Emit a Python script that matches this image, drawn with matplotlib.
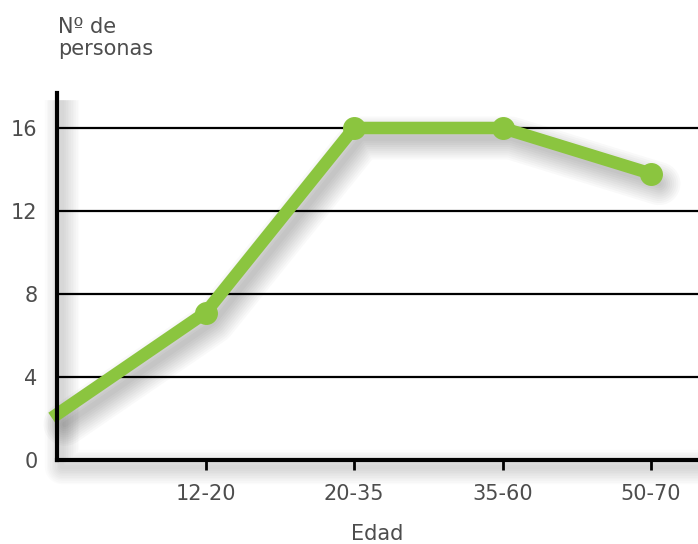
"""
Nº de personas por grupo de edad
"""
import numpy as np
import matplotlib
matplotlib.use("Agg")
import matplotlib.pyplot as plt
from matplotlib import transforms

# datos
edades = ["12-20", "20-35", "35-60", "50-70"]
personas = [7.1, 16, 16, 13.8]
inicio = 2.2  # valor en el origen (sin marcador)
y_ticks = [0, 4, 8, 12, 16]

verde = "#8bc53f"
gris = "#4d4d4d"
plt.rcParams['font.family'] = ['DejaVu Sans']

fig = plt.figure(figsize=(6.98, 5.44), dpi=100)
ax = fig.add_axes([57 / 698, 84 / 544, 641 / 698, 367 / 544])

x = np.arange(len(edades) + 1)
y = np.array([inicio] + personas)

# sombra difuminada (capas)
sombra = transforms.ScaledTranslation(8 / 100, -10 / 100, fig.dpi_scale_trans)
sombra_ejes = transforms.ScaledTranslation(5 / 100, -7 / 100, fig.dpi_scale_trans)
for w in np.arange(4, 34, 3):
    ax.plot(x, y, color="black", lw=w, alpha=0.025, transform=ax.transData + sombra,
            solid_capstyle="round", solid_joinstyle="round", zorder=1, clip_on=False)
    ax.plot([0, 0, 1], [1, 0, 0], color="black", lw=w * 0.8, alpha=0.015,
            transform=ax.transAxes + sombra_ejes, zorder=1, clip_on=False,
            solid_capstyle="butt")

for v in y_ticks[1:]:
    ax.axhline(v, color="black", lw=1.6, zorder=2)

ax.plot(x, y, color=verde, lw=9, zorder=3, solid_joinstyle="round", clip_on=False)
ax.plot(x[1:], y[1:], "o", color=verde, ms=15.5, zorder=4, clip_on=False)

ax.set_xlim(0, 641 / 148.5)
ax.set_ylim(0, 367 / 20.75)
ax.set_xticks(x[1:])
ax.set_xticklabels(edades)
ax.set_yticks(y_ticks)

for s in ["top", "right"]:
    ax.spines[s].set_visible(False)
for s in ["left", "bottom"]:
    ax.spines[s].set_linewidth(3)
    ax.spines[s].set_zorder(5)

ax.tick_params(axis="x", length=7, width=2, color="black", pad=10, labelsize=15, labelcolor=gris)
ax.tick_params(axis="y", length=0, pad=14, labelsize=15, labelcolor=gris)

fig.text(58 / 698, 1 - 17 / 544, "Nº de\npersonas", fontsize=15, color=gris,
         ha="left", va="top", linespacing=1.12)
ax.set_xlabel("Edad", fontsize=15, color=gris, labelpad=15)

plt.savefig("out.png", dpi=100)
